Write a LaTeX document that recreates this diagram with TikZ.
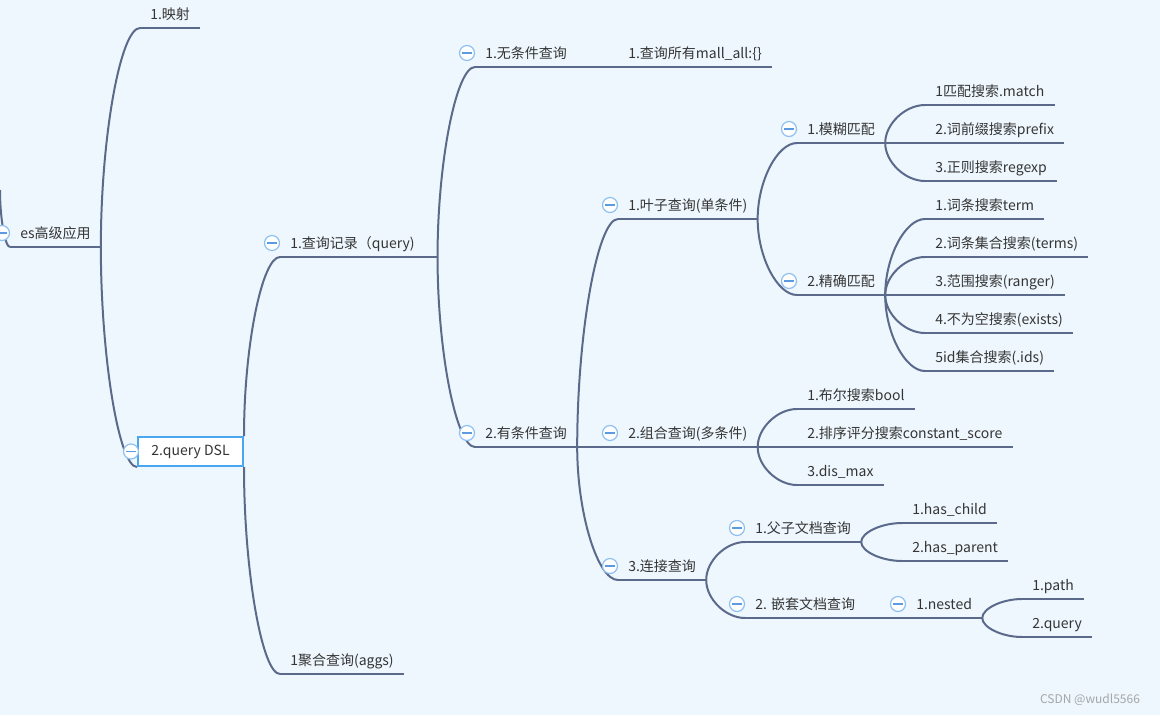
\documentclass[tikz,border=0pt]{standalone}
\usepackage{fontspec}
\setmainfont{Noto Sans CJK SC}
\usetikzlibrary{calc,positioning}

\definecolor{bg}{HTML}{EEF7FE}
\definecolor{branchc}{HTML}{5B6A8B}
\definecolor{ink}{HTML}{353535}
\definecolor{boxc}{HTML}{4AA6EE}
\definecolor{foldc}{HTML}{8EC0F2}
\definecolor{minusc}{HTML}{5C9AE2}

\tikzset{
  topic/.style={anchor=south west, inner xsep=7.5pt, inner ysep=0pt,
    text height=8pt, text depth=6.5pt, text=ink,
    font=\fontsize{10.5pt}{12pt}\selectfont},
  wire/.style={draw=branchc, line width=1.5pt},
  branch/.style={wire, to path={.. controls ($(\tikztostart)!0.5!(\tikztostart |- \tikztotarget)$)
    and ($(\tikztostart |- \tikztotarget)!0.5!(\tikztotarget)$) .. (\tikztotarget)}},
  fold/.style={circle, draw=foldc, fill=white, line width=0.9pt, minimum size=11.25pt, inner sep=0pt,
    path picture={\draw[minusc, line width=0.9pt] ([xshift=2.2pt]path picture bounding box.west)
      -- ([xshift=-2.2pt]path picture bounding box.east);}},
}

\begin{document}
\begin{tikzpicture}[x=0.75pt, y=-0.75pt]

	\fill[bg] (0,0) rectangle (1160,715);
	\useasboundingbox (0,0) rectangle (1160,715);

	% root and first level
	\coordinate (inroot) at (0,190);
	\node[topic] (root) at (10,247) {es高级应用};
	\node[topic] (map) at (140,28) {1.映射};
	\node[draw=boxc, line width=1.5pt, fill=white, minimum width=78.75pt, minimum height=21.75pt,
		inner sep=0pt, text=ink, font=\fontsize{10.5pt}{12pt}\selectfont] (dsl) at (190.5,451.5) {2.query DSL};

	\node[topic, text width=102.75pt] (rec) at (280,257) {1.查询记录（query)};
	\node[topic] (agg) at (280,674) {1聚合查询(aggs)};

	\node[topic] (nocond) at (475,67) {1.无条件查询};
	\node[topic] (all) at (618,67) {1.查询所有mall\_all:\{\}};
	\node[topic] (cond) at (475,447) {2.有条件查询};

	\node[topic] (leaf) at (618,219) {1.叶子查询(单条件)};
	\node[topic] (comb) at (618,447) {2.组合查询(多条件)};
	\node[topic] (join) at (618,580) {3.连接查询};

	% leaf queries
	\node[topic] (fuzzy) at (797,143) {1.模糊匹配};
	\node[topic] (exact) at (797,295) {2.精确匹配};
	\node[topic] (match) at (925,105) {1匹配搜索.match};
	\node[topic] (prefix) at (925,143) {2.词前缀搜索prefix};
	\node[topic] (regexp) at (925,181) {3.正则搜索regexp};
	\node[topic] (term) at (925,219) {1.词条搜索term};
	\node[topic] (terms) at (925,257) {2.词条集合搜索(terms)};
	\node[topic] (ranger) at (925,295) {3.范围搜索(ranger)};
	\node[topic] (exists) at (925,333) {4.不为空搜索(exists)};
	\node[topic] (ids) at (925,371) {5id集合搜索(.ids)};

	% compound queries
	\node[topic] (bool) at (797,409) {1.布尔搜索bool};
	\node[topic] (cscore) at (797,447) {2.排序评分搜索constant\_score};
	\node[topic] (dismax) at (797,485) {3.dis\_max};

	% join queries
	\node[topic] (pc) at (745,542) {1.父子文档查询};
	\node[topic] (nest) at (745,618) {2. 嵌套文档查询};
	\node[topic] (child) at (902,523) {1.has\_child};
	\node[topic] (hparent) at (902,561) {2.has\_parent};
	\node[topic] (nested) at (906,618) {1.nested};
	\node[topic] (path) at (1022,599) {1.path};
	\node[topic] (query) at (1022,637) {2.query};

	\node[text=black!35, font=\fontsize{9pt}{10pt}\selectfont] (wm) at (1090,700) {CSDN @wudl5566};

	% underlines
	\foreach \n in {root,map,rec,agg,nocond,all,cond,leaf,comb,join,fuzzy,exact,match,prefix,regexp,
		term,terms,ranger,exists,ids,bool,cscore,dismax,pc,nest,child,hparent,nested,path,query}
		\draw[wire] (\n.south west) -- (\n.south east);

	% connectors
	\draw[branch] (inroot) to (root.south west);
	\draw[branch] (root.south east) to (dsl.south west);
	\draw[branch] (dsl.north east) to (rec.south west);
	\draw[branch] (dsl.south east) to (agg.south west);
	\foreach \a/\b in {root/map,rec/nocond,rec/cond,nocond/all,cond/leaf,cond/comb,cond/join,
		leaf/fuzzy,leaf/exact,fuzzy/match,fuzzy/prefix,fuzzy/regexp,
		exact/term,exact/terms,exact/ranger,exact/exists,exact/ids,
		comb/bool,comb/cscore,comb/dismax,join/pc,join/nest,
		pc/child,pc/hparent,nest/nested,nested/path,nested/query}
		\draw[branch] (\a.south east) to (\b.south west);

	% fold markers
	\foreach \n in {root,rec,nocond,cond,leaf,comb,join,fuzzy,exact,pc,nest,nested}
		\node[fold] (\n fold) at ([shift={(-8,-14)}]\n.south west) {};
	\node[fold] (dslfold) at ([xshift=-4.5pt]dsl.west) {};

\end{tikzpicture}
\end{document}
